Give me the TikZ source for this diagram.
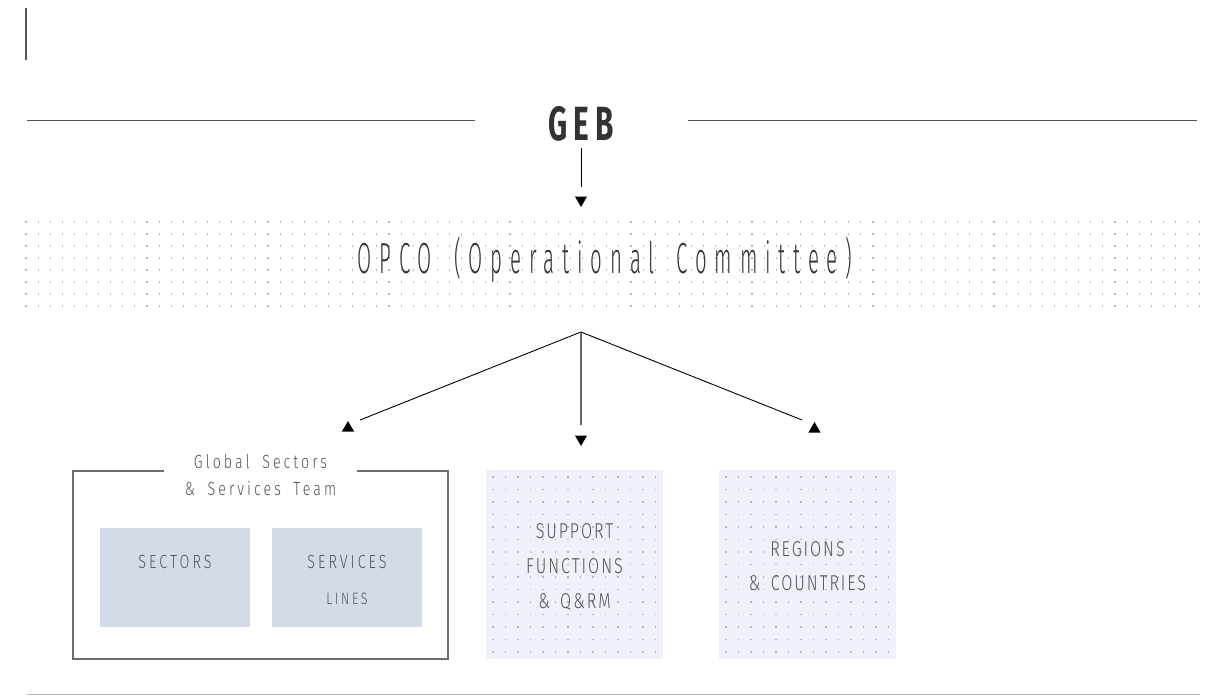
\documentclass[tikz,border=0pt]{standalone}
\usepackage{fontspec}
\usetikzlibrary{shapes.geometric}
\newfontfamily\dinlight{Fira Sans Light}[FakeStretch=0.47,LetterSpace=18,WordSpace=1.65]
\newfontfamily\dinsmall{Fira Sans Light}[FakeStretch=0.75,LetterSpace=16,WordSpace=1.8]
\newfontfamily\dinbox{Fira Sans Light}[FakeStretch=0.75,LetterSpace=9,WordSpace=1.6]
\newfontfamily\dinbold{Fira Sans}[FakeStretch=0.62,LetterSpace=12]
\definecolor{ink}{HTML}{333333}
\definecolor{txt}{HTML}{55555B}
\definecolor{rulegrey}{HTML}{555555}
\definecolor{framegrey}{HTML}{6E6E6E}
\definecolor{pale}{HTML}{D3DAE8}
\definecolor{mist}{HTML}{EEF1F7}
\definecolor{dotc}{HTML}{ADB6D6}
\definecolor{basegrey}{HTML}{BBBBBB}
% grid of tiny dots: x0 y0 dx dy nx ny
\newcommand\dotfield[6]{%
  \foreach \i in {0,...,#5}{\foreach \j in {0,...,#6}{%
    \fill[dotc] ({#1+\i*#3-0.55},{#2+\j*#4-0.55}) rectangle ++(1.1,1.1);}}}
\tikzset{
  wire/.style={draw=black,line width=0.9pt},
  rulel/.style={draw=rulegrey,line width=1pt},
  tipup/.style={regular polygon,regular polygon sides=3,minimum size=14pt,inner sep=0pt,fill=black,draw=none},
  tipdown/.style={tipup,shape border rotate=180},
  headline/.style={inner sep=0pt,text=ink,font={\dinbold\bfseries\fontsize{48}{48}\selectfont}},
  bigline/.style={inner sep=0pt,text=ink,font={\dinlight\fontsize{43.5}{43.5}\selectfont}},
  smallline/.style={inner sep=0pt,text=txt,font={\dinsmall\fontsize{19}{19}\selectfont}},
  boxline/.style={inner sep=0pt,text=txt,font={\dinbox\fontsize{21.5}{21.5}\selectfont}},
  solidbox/.style={fill=pale,draw=none,inner sep=0pt},
  dotbox/.style={fill=mist,draw=none,inner sep=0pt},
}
\begin{document}
\begin{tikzpicture}[x=1pt,y=-1pt]
\useasboundingbox (0,0) rectangle (1210,696);
\fill[white] (0,0) rectangle (1210,696);

% corner mark
\draw[rulel,line width=1.1pt] (26,8) -- (26,60);

% GEB heading with rules
\node[headline,anchor=base] (geb) at (581,140) {GEB};
\coordinate (ruleLa) at (27,120);  \coordinate (ruleLb) at (475,120);
\coordinate (ruleRa) at (688,120); \coordinate (ruleRb) at (1197,120);
\draw[rulel] (ruleLa) -- (ruleLb);
\draw[rulel] (ruleRa) -- (ruleRb);
\coordinate (gebstem) at (581,148);
\coordinate (gebend) at (581,187);
\draw[wire] (gebstem) -- (gebend);
\node[tipdown] (gebtip) at (581,200) {};

% OPCO band
\dotfield{26}{222}{12.1}{12}{97}{7}
\node[bigline,anchor=base] (opco) at (605,273) {OPCO (Operational Committee)};

% fan-out connectors
\coordinate (hub) at (581,332);
\coordinate (endL) at (360,420);
\coordinate (endM) at (581,425);
\coordinate (endR) at (802,420);
\draw[wire] (hub) -- (endL);
\draw[wire,draw=black!60,line width=1.1pt] (hub) -- (endM);
\draw[wire] (hub) -- (endR);
\node[tipup] (tipL) at (348,428) {};
\node[tipdown] (tipM) at (581,439) {};
\node[tipup] (tipR) at (814.5,429) {};

% Global Sectors & Services Team frame
\draw[draw=framegrey,line width=1.2pt] (164,471) -- (73,471) -- (73,659) -- (448,659) -- (448,471) -- (357,471);
\node[smallline,anchor=base] (gst1) at (260.5,468) {Global Sectors};
\node[smallline,anchor=base] (gst2) at (260.5,495) {\& Services Team};

\node[solidbox,minimum width=150pt,minimum height=99pt] (sectors) at (175,577.5) {};
\node[solidbox,minimum width=150pt,minimum height=99pt] (services) at (347,577.5) {};
\node[smallline,anchor=base] (sectxt) at (175,568) {SECTORS};
\node[smallline,anchor=base] (sertxt) at (347,568) {SERVICES};
\node[smallline,anchor=base,font={\dinsmall\fontsize{16.5}{16.5}\selectfont}] (lintxt) at (347,604) {LINES};

% Support functions box
\node[dotbox,minimum width=177pt,minimum height=189pt] (support) at (574.5,564.5) {};
\dotfield{493}{477}{12.5}{12.5}{13}{14}
\node[boxline,anchor=base] (sup1) at (574.5,538) {SUPPORT};
\node[boxline,anchor=base] (sup2) at (574.5,573) {FUNCTIONS};
\node[boxline,anchor=base] (sup3) at (574.5,608) {\& Q\&RM};

% Regions box
\node[dotbox,minimum width=177pt,minimum height=189pt] (regions) at (807.5,564.5) {};
\dotfield{726}{477}{12.5}{12.5}{13}{14}
\node[boxline,anchor=base] (reg1) at (807.5,556) {REGIONS};
\node[boxline,anchor=base] (reg2) at (807.5,590) {\& COUNTRIES};

% base rule
\draw[draw=basegrey,line width=1.6pt] (27,694.5) -- (1200,694.5);
\end{tikzpicture}
\end{document}
